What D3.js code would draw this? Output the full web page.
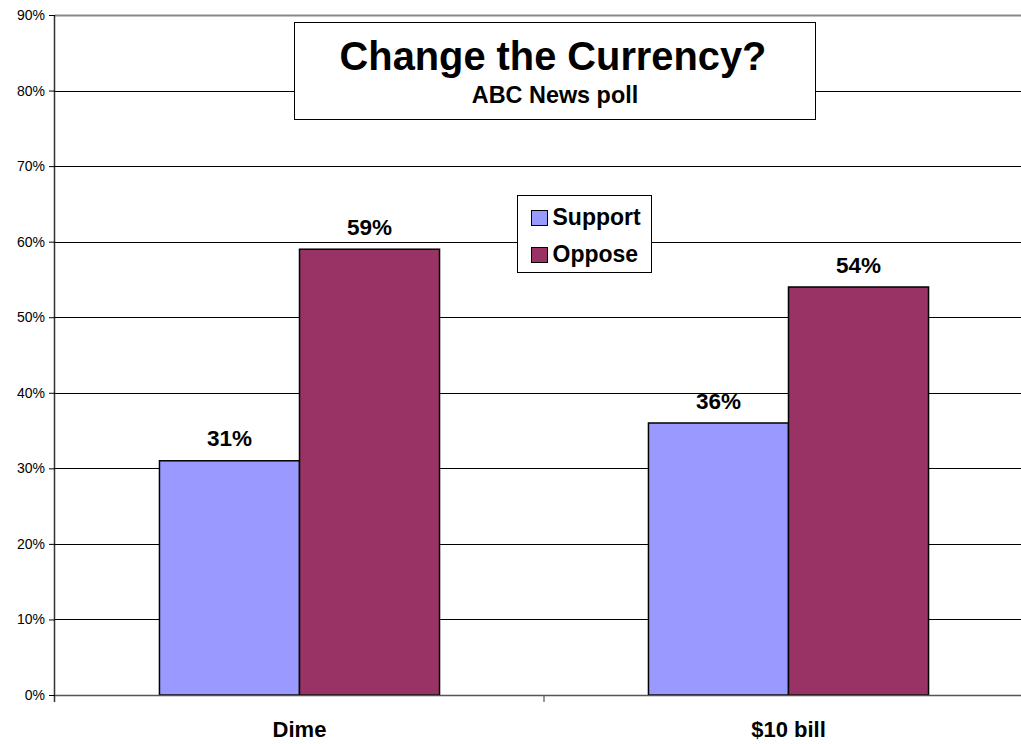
<!DOCTYPE html>
<html><head><meta charset="utf-8">
<script src="https://cdn.jsdelivr.net/npm/d3@7"></script>
<style>body{margin:0;background:#fff}svg{display:block;font-family:"Liberation Sans",Arial,sans-serif}</style>
</head><body><svg id="c" width="1021" height="744"></svg>
<script>
const categories = ["Dime", "$10 bill"];
const seriesNames = ["Support", "Oppose"];
const support = [31, 36];
const oppose = [59, 54];
const yTicks = [0,10,20,30,40,50,60,70,80,90];
const colors = ["#9999FF", "#993366"];

const svg = d3.select("#c");
const L = 55, R = 1033, T = 15, B = 695;
const x = d3.scaleBand().domain(categories).range([L, R]).paddingInner(0).paddingOuter(0);
const y = d3.scaleLinear().domain([0, 90]).range([B, T]);
const xs = d3.scaleBand().domain(seriesNames).range([0, x.bandwidth()]).paddingInner(0).paddingOuter(0.746);

// gridlines
svg.append("g").selectAll("line").data(yTicks.filter(d => d > 0)).join("line")
  .attr("x1", L).attr("x2", R).attr("y1", d => Math.round(y(d)) + 0.5).attr("y2", d => Math.round(y(d)) + 0.5)
  .attr("stroke", d => d === 90 ? "#888" : "#000").attr("stroke-width", d => d === 90 ? 2 : 1);

// bars
const data = categories.map((c, i) => ({c, vals: [support[i], oppose[i]]}));
const g = svg.append("g");
data.forEach(d => {
  d.vals.forEach((v, j) => {
    const bx = x(d.c) + xs(seriesNames[j]);
    g.append("rect").attr("x", bx).attr("y", y(v)).attr("width", xs.bandwidth()).attr("height", y(0) - y(v))
      .attr("fill", colors[j]).attr("stroke", "#000").attr("stroke-width", 1.5);
    g.append("text").attr("x", bx + xs.bandwidth() / 2).attr("y", y(v) - 14.5)
      .attr("text-anchor", "middle").attr("font-weight", "bold").attr("font-size", 22.5).text(v + "%");
  });
});

// y axis
const ya = svg.append("g").attr("transform", `translate(${L},0)`)
  .call(d3.axisLeft(y).tickValues(yTicks).tickFormat(d => d + "%").tickSize(6).tickPadding(4));
ya.select(".domain").attr("stroke", "#333").attr("stroke-width", 1.5).attr("d", `M-0.5,${T}V${B+7}`);
ya.selectAll(".tick line").attr("stroke", "#000");
ya.selectAll("text").attr("font-size", 14).attr("font-family", "Liberation Sans, Arial, sans-serif").attr("fill", "#000");

// x axis
svg.append("line").attr("x1", L).attr("x2", R).attr("y1", B + 0.5).attr("y2", B + 0.5).attr("stroke", "#555").attr("stroke-width", 1.5);
svg.append("g").selectAll("line").data(categories.slice(1)).join("line")
  .attr("x1", d => x(d)).attr("x2", d => x(d)).attr("y1", B).attr("y2", B + 7).attr("stroke", "#555").attr("stroke-width", 1.2);
svg.append("g").selectAll("text").data(categories).join("text")
  .attr("x", d => x(d) + x.bandwidth() / 2).attr("y", 737).attr("text-anchor", "middle")
  .attr("font-weight", "bold").attr("font-size", 22).text(d => d);

// title box
svg.append("rect").attr("x", 294.5).attr("y", 22.5).attr("width", 521).attr("height", 97).attr("fill", "#fff").attr("stroke", "#000");
svg.append("text").attr("x", 553).attr("y", 70).attr("text-anchor", "middle").attr("font-weight", "bold").attr("font-size", 39.8).text("Change the Currency?");
svg.append("text").attr("x", 555).attr("y", 103).attr("text-anchor", "middle").attr("font-weight", "bold").attr("font-size", 23.4).text("ABC News poll");

// legend
svg.append("rect").attr("x", 517.5).attr("y", 195.5).attr("width", 134).attr("height", 77).attr("fill", "#fff").attr("stroke", "#000");
const lg = svg.append("g").selectAll("g").data(seriesNames).join("g")
  .attr("transform", (d, i) => `translate(531.5,${210.5 + i * 37})`);
lg.append("rect").attr("width", 16).attr("height", 15).attr("fill", (d, i) => colors[i]).attr("stroke", "#000").attr("stroke-width", 1);
lg.append("text").attr("x", 21).attr("y", 14.5).attr("font-weight", "bold").attr("font-size", 23).text(d => d);
</script></body></html>
